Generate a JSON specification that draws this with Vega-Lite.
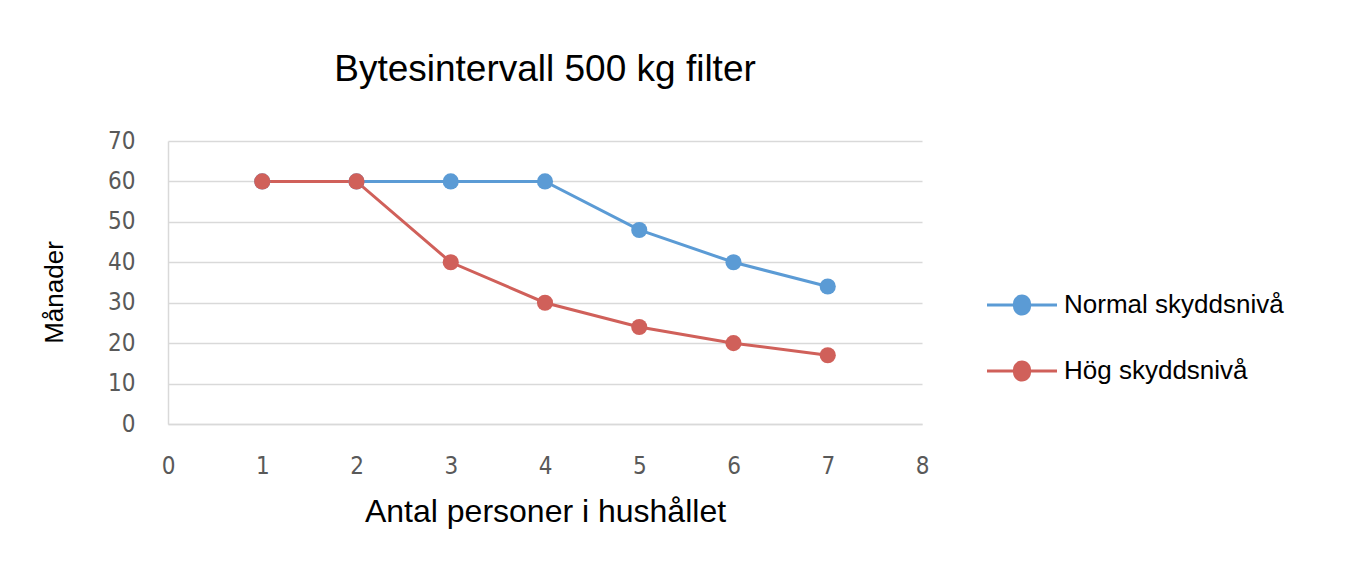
{
  "$schema": "https://vega.github.io/schema/vega-lite/v6.json",
  "autosize": "none",
  "width": 754,
  "height": 283,
  "padding": {"left": 168, "top": 141, "right": 423, "bottom": 153},
  "background": "white",
  "title": {
    "text": "Bytesintervall 500 kg filter",
    "font": "Liberation Sans",
    "fontSize": 37,
    "fontWeight": "normal",
    "color": "#000000",
    "anchor": "middle",
    "offset": 40
  },
  "data": {
    "values": [
      {"personer": 1, "manader": 60, "serie": "Normal skyddsnivå"},
      {"personer": 2, "manader": 60, "serie": "Normal skyddsnivå"},
      {"personer": 3, "manader": 60, "serie": "Normal skyddsnivå"},
      {"personer": 4, "manader": 60, "serie": "Normal skyddsnivå"},
      {"personer": 5, "manader": 48, "serie": "Normal skyddsnivå"},
      {"personer": 6, "manader": 40, "serie": "Normal skyddsnivå"},
      {"personer": 7, "manader": 34, "serie": "Normal skyddsnivå"},
      {"personer": 1, "manader": 60, "serie": "Hög skyddsnivå"},
      {"personer": 2, "manader": 60, "serie": "Hög skyddsnivå"},
      {"personer": 3, "manader": 40, "serie": "Hög skyddsnivå"},
      {"personer": 4, "manader": 30, "serie": "Hög skyddsnivå"},
      {"personer": 5, "manader": 24, "serie": "Hög skyddsnivå"},
      {"personer": 6, "manader": 20, "serie": "Hög skyddsnivå"},
      {"personer": 7, "manader": 17, "serie": "Hög skyddsnivå"}
    ]
  },
  "encoding": {
    "x": {
      "field": "personer",
      "type": "quantitative",
      "scale": {"domain": [0, 8], "nice": false, "zero": true},
      "axis": {
        "title": "Antal personer i hushållet",
        "titleFont": "Liberation Sans",
        "titleFontSize": 32,
        "titleFontWeight": "normal",
        "titleColor": "#000000",
        "titlePadding": 18,
        "values": [0, 1, 2, 3, 4, 5, 6, 7, 8],
        "labelFont": "DejaVu Sans Condensed",
        "labelFontSize": 24,
        "labelColor": "#595959",
        "labelPadding": 30,
        "ticks": false,
        "grid": false,
        "domainColor": "#d9d9d9",
        "domainWidth": 1.5,
        "labelFlush": false
      }
    },
    "y": {
      "field": "manader",
      "type": "quantitative",
      "scale": {"domain": [0, 70], "nice": false},
      "axis": {
        "title": "Månader",
        "titleFont": "Liberation Sans",
        "titleFontSize": 26,
        "titleFontWeight": "normal",
        "titleColor": "#000000",
        "titlePadding": 40,
        "titleY": 151,
        "values": [0, 10, 20, 30, 40, 50, 60, 70],
        "labelFont": "DejaVu Sans Condensed",
        "labelFontSize": 24,
        "labelColor": "#595959",
        "labelPadding": 33,
        "ticks": false,
        "grid": true,
        "gridColor": "#d9d9d9",
        "gridWidth": 1.5,
        "domainColor": "#d9d9d9",
        "domainWidth": 1.5
      }
    },
    "color": {
      "field": "serie",
      "type": "nominal",
      "scale": {
        "domain": ["Normal skyddsnivå", "Hög skyddsnivå"],
        "range": ["#5b9bd5", "#d0605a"]
      },
      "legend": {
        "title": null,
        "orient": "none",
        "legendX": 829,
        "legendY": 139,
        "symbolType": "M-1.4,-0.06 L-0.36,-0.06 A0.36,0.36 0 0,1 0.36,-0.06 L1.4,-0.06 L1.4,0.06 L0.36,0.06 A0.36,0.36 0 0,1 -0.36,0.06 L-1.4,0.06 Z",
        "symbolSize": 2500,
        "symbolStrokeWidth": 0,
        "symbolOpacity": 1,
        "labelFont": "Liberation Sans",
        "labelFontSize": 26,
        "labelColor": "#000000",
        "labelOffset": 17,
        "rowPadding": 28,
        "padding": 0,
        "labelLimit": 400
      }
    },
    "order": {"field": "serie", "sort": "descending"}
  },
  "layer": [
    {
      "mark": {"type": "line", "strokeWidth": 3}
    },
    {
      "mark": {"type": "circle", "size": 260, "opacity": 1}
    }
  ],
  "config": {
    "view": {"stroke": null}
  }
}
